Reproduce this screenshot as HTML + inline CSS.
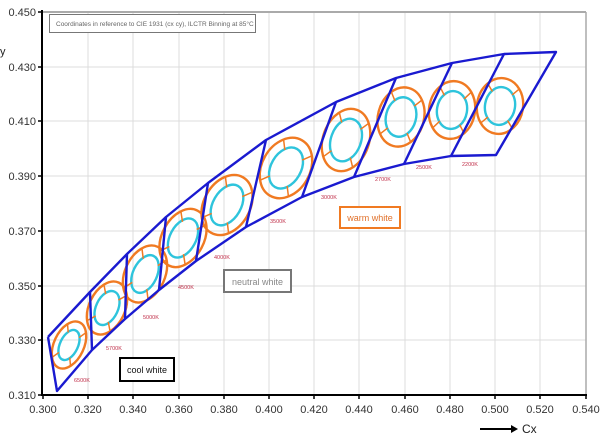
<!DOCTYPE html>
<html><head><meta charset="utf-8"><style>
body{margin:0;background:#fff}
svg{display:block;font-family:"Liberation Sans",sans-serif}
</style></head><body>
<svg width="600" height="436" viewBox="0 0 600 436">
<rect width="600" height="436" fill="#fff"/>
<g stroke="#dcdcdc" stroke-width="1">
<line x1="88" y1="12" x2="88" y2="395"/><line x1="133" y1="12" x2="133" y2="395"/>
<line x1="179" y1="12" x2="179" y2="395"/><line x1="224" y1="12" x2="224" y2="395"/>
<line x1="269" y1="12" x2="269" y2="395"/><line x1="314" y1="12" x2="314" y2="395"/>
<line x1="359" y1="12" x2="359" y2="395"/><line x1="405" y1="12" x2="405" y2="395"/>
<line x1="450" y1="12" x2="450" y2="395"/><line x1="495" y1="12" x2="495" y2="395"/>
<line x1="540" y1="12" x2="540" y2="395"/>
<line x1="43" y1="67" x2="586" y2="67"/><line x1="43" y1="121" x2="586" y2="121"/>
<line x1="43" y1="176" x2="586" y2="176"/><line x1="43" y1="231" x2="586" y2="231"/>
<line x1="43" y1="286" x2="586" y2="286"/><line x1="43" y1="340" x2="586" y2="340"/>
</g>
<line x1="43" y1="12" x2="586" y2="12" stroke="#aaa" stroke-width="2"/>
<line x1="586" y1="12" x2="586" y2="395" stroke="#aaa" stroke-width="1.5"/>
<line x1="42" y1="10" x2="42" y2="396" stroke="#000" stroke-width="2"/>
<line x1="41" y1="395" x2="587" y2="395" stroke="#000" stroke-width="2"/>
<g stroke="#000" stroke-width="1.5">
<line x1="38" y1="12" x2="42" y2="12"/><line x1="38" y1="67" x2="42" y2="67"/><line x1="38" y1="121" x2="42" y2="121"/><line x1="38" y1="176" x2="42" y2="176"/><line x1="38" y1="231" x2="42" y2="231"/><line x1="38" y1="286" x2="42" y2="286"/><line x1="38" y1="340" x2="42" y2="340"/><line x1="38" y1="395" x2="42" y2="395"/>
<line x1="43" y1="395" x2="43" y2="399"/><line x1="88" y1="395" x2="88" y2="399"/><line x1="133" y1="395" x2="133" y2="399"/><line x1="179" y1="395" x2="179" y2="399"/><line x1="224" y1="395" x2="224" y2="399"/><line x1="269" y1="395" x2="269" y2="399"/><line x1="314" y1="395" x2="314" y2="399"/><line x1="359" y1="395" x2="359" y2="399"/><line x1="405" y1="395" x2="405" y2="399"/><line x1="450" y1="395" x2="450" y2="399"/><line x1="495" y1="395" x2="495" y2="399"/><line x1="540" y1="395" x2="540" y2="399"/><line x1="586" y1="395" x2="586" y2="399"/>
</g>
<g font-size="11" fill="#333" text-anchor="end">
<text x="36" y="16">0.450</text><text x="36" y="71">0.430</text><text x="36" y="125">0.410</text><text x="36" y="180">0.390</text><text x="36" y="235">0.370</text><text x="36" y="290">0.350</text><text x="36" y="344">0.330</text><text x="36" y="399">0.310</text>
</g>
<g font-size="11" fill="#333" text-anchor="middle">
<text x="43" y="413">0.300</text><text x="88" y="413">0.320</text><text x="133" y="413">0.340</text><text x="179" y="413">0.360</text><text x="224" y="413">0.380</text><text x="269" y="413">0.400</text><text x="314" y="413">0.420</text><text x="359" y="413">0.440</text><text x="405" y="413">0.460</text><text x="450" y="413">0.480</text><text x="495" y="413">0.500</text><text x="540" y="413">0.520</text><text x="586" y="413">0.540</text>
</g>
<text x="0" y="55" font-size="11" fill="#222">y</text>
<line x1="480" y1="429" x2="512" y2="429" stroke="#000" stroke-width="2"/>
<polygon points="511,425 518,429 511,433" fill="#000"/>
<text x="522" y="433" font-size="12" fill="#222">Cx</text>
<rect x="49.5" y="14.5" width="206" height="18" fill="#fff" stroke="#777"/>
<text x="56" y="26" font-size="6.5" fill="#666">Coordinates in reference to CIE 1931 (cx cy), ILCTR Binning at 85°C</text>
<g fill="none">
<g transform="translate(69,345) rotate(25)"><ellipse rx="15" ry="25" stroke="#f07a22" stroke-width="2.4"/><ellipse rx="9" ry="16" stroke="#2ec4dc" stroke-width="2.4"/><path d="M6,11L10,18M-6,11L-10,18M6,-11L10,-18M-6,-11L-10,-18" stroke="#f07a22" stroke-width="1.5"/></g>
<g transform="translate(107,308) rotate(25)"><ellipse rx="18" ry="28" stroke="#f07a22" stroke-width="2.4"/><ellipse rx="11" ry="18" stroke="#2ec4dc" stroke-width="2.4"/><path d="M7,12L12,19M-7,12L-12,19M7,-12L12,-19M-7,-12L-12,-19" stroke="#f07a22" stroke-width="1.5"/></g>
<g transform="translate(145,274) rotate(25)"><ellipse rx="20" ry="30" stroke="#f07a22" stroke-width="2.4"/><ellipse rx="12" ry="20" stroke="#2ec4dc" stroke-width="2.4"/><path d="M8,13L13,21M-8,13L-13,21M8,-13L13,-21M-8,-13L-13,-21" stroke="#f07a22" stroke-width="1.5"/></g>
<g transform="translate(183,238) rotate(28)"><ellipse rx="21" ry="31" stroke="#f07a22" stroke-width="2.4"/><ellipse rx="13" ry="21" stroke="#2ec4dc" stroke-width="2.4"/><path d="M8,14L14,22M-8,14L-14,22M8,-14L14,-22M-8,-14L-14,-22" stroke="#f07a22" stroke-width="1.5"/></g>
<g transform="translate(227,205) rotate(30)"><ellipse rx="23" ry="32" stroke="#f07a22" stroke-width="2.4"/><ellipse rx="14" ry="22" stroke="#2ec4dc" stroke-width="2.4"/><path d="M9,15L15,23M-9,15L-15,23M9,-15L15,-23M-9,-15L-15,-23" stroke="#f07a22" stroke-width="1.5"/></g>
<g transform="translate(286,168) rotate(30)"><ellipse rx="24" ry="32" stroke="#f07a22" stroke-width="2.4"/><ellipse rx="15" ry="22" stroke="#2ec4dc" stroke-width="2.4"/><path d="M10,15L16,23M-10,15L-16,23M10,-15L16,-23M-10,-15L-16,-23" stroke="#f07a22" stroke-width="1.5"/></g>
<g transform="translate(346,140) rotate(20)"><ellipse rx="23" ry="32" stroke="#f07a22" stroke-width="2.4"/><ellipse rx="15" ry="22" stroke="#2ec4dc" stroke-width="2.4"/><path d="M10,15L16,24M-10,15L-16,24M10,-15L16,-24M-10,-15L-16,-24" stroke="#f07a22" stroke-width="1.5"/></g>
<g transform="translate(401,117) rotate(15)"><ellipse rx="23" ry="30" stroke="#f07a22" stroke-width="2.4"/><ellipse rx="15" ry="20" stroke="#2ec4dc" stroke-width="2.4"/><path d="M10,14L16,22M-10,14L-16,22M10,-14L16,-22M-10,-14L-16,-22" stroke="#f07a22" stroke-width="1.5"/></g>
<g transform="translate(452,110) rotate(10)"><ellipse rx="23" ry="29" stroke="#f07a22" stroke-width="2.4"/><ellipse rx="15" ry="19" stroke="#2ec4dc" stroke-width="2.4"/><path d="M10,13L16,21M-10,13L-16,21M10,-13L16,-21M-10,-13L-16,-21" stroke="#f07a22" stroke-width="1.5"/></g>
<g transform="translate(500,106) rotate(10)"><ellipse rx="23" ry="28" stroke="#f07a22" stroke-width="2.4"/><ellipse rx="15" ry="19" stroke="#2ec4dc" stroke-width="2.4"/><path d="M10,13L16,20M-10,13L-16,20M10,-13L16,-20M-10,-13L-16,-20" stroke="#f07a22" stroke-width="1.5"/></g>
</g>
<g fill="none" stroke="#1a1ad0" stroke-width="2.4" stroke-linejoin="round">
<polyline points="48,337 90,292 127,254 166,217 208,183 266,140 336,102 396,78 452,63 504,54 556,52 496,155 451,156 404,164 354,177 302,197 246,227 196,261 159,290 125,319 92,350 57,391 48,337"/>
<line x1="90" y1="292" x2="92" y2="350"/>
<line x1="127" y1="254" x2="125" y2="319"/>
<line x1="166" y1="217" x2="159" y2="290"/>
<line x1="208" y1="183" x2="196" y2="261"/>
<line x1="266" y1="140" x2="246" y2="227"/>
<line x1="336" y1="102" x2="302" y2="197"/>
<line x1="396" y1="78" x2="354" y2="177"/>
<line x1="452" y1="63" x2="404" y2="164"/>
<line x1="504" y1="54" x2="451" y2="156"/>
</g>
<g font-size="5.5" fill="#c0304a">
<text x="74" y="382">6500K</text><text x="106" y="350">5700K</text><text x="143" y="319">5000K</text><text x="178" y="289">4500K</text><text x="214" y="259">4000K</text><text x="270" y="223">3500K</text><text x="321" y="199">3000K</text><text x="375" y="181">2700K</text><text x="416" y="169">2500K</text><text x="462" y="166">2200K</text>
</g>
<rect x="120" y="358" width="54" height="23" fill="#fff" stroke="#000" stroke-width="2"/>
<text x="147" y="373" font-size="9" text-anchor="middle" fill="#111">cool white</text>
<rect x="224" y="270" width="67" height="22" fill="#fff" stroke="#777" stroke-width="2"/>
<text x="257.5" y="285" font-size="9" text-anchor="middle" fill="#888">neutral white</text>
<rect x="340" y="207" width="60" height="21" fill="#fff" stroke="#f07a22" stroke-width="2"/>
<text x="370" y="221" font-size="9" text-anchor="middle" fill="#e0702a">warm white</text>
</svg>
</body></html>
